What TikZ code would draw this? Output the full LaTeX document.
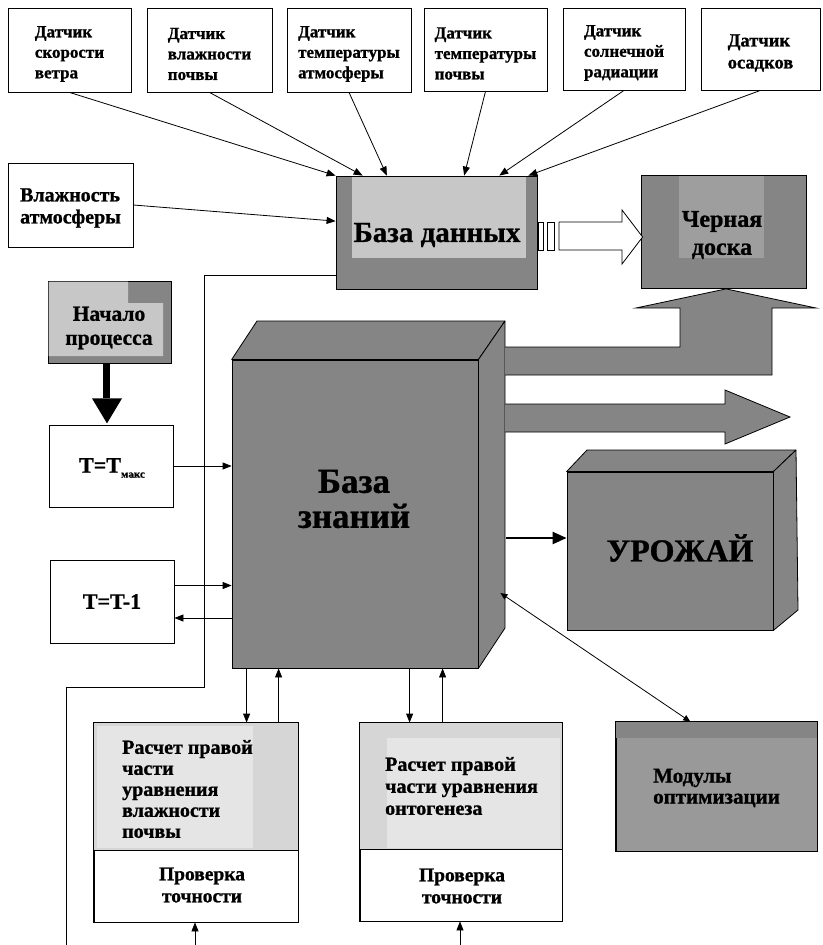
\documentclass[tikz,border=0pt]{standalone}
\usepackage{fontspec}
\setmainfont{Liberation Serif}[BoldFeatures={FakeBold=1}]
\usetikzlibrary{arrows.meta,calc}
\definecolor{chk}{gray}{0.52}
\definecolor{lite}{gray}{0.78}
\definecolor{midg}{gray}{0.62}
\definecolor{spr}{gray}{0.84}
\definecolor{sprl}{gray}{0.90}
\definecolor{modc}{gray}{0.60}
\begin{document}
\begin{tikzpicture}[x=1pt,y=-1pt,
  box/.style={draw,line width=0.8pt,inner sep=0pt,fill=white},
  sens/.style={inner sep=0pt,font=\fontsize{17}{20.5}\selectfont\bfseries,align=left},
  arr/.style={line width=0.8pt,-{Triangle[length=9pt,width=7pt]}},
  shadebox/.style={fill=chk,draw,line width=0.8pt,inner sep=0pt},
  face/.style={fill=chk,draw,line width=0.8pt,line join=round},
  txt/.style={inner sep=0pt,font=\bfseries}
]
\useasboundingbox (0,0) rectangle (822,945);

% sensors
\node[box,minimum width=123pt,minimum height=84pt] (s1) at (69.5,50) {};
\node[box,minimum width=125pt,minimum height=84pt] (s2) at (209.5,50) {};
\node[box,minimum width=124pt,minimum height=84pt] (s3) at (349,50) {};
\node[box,minimum width=123pt,minimum height=83pt] (s4) at (485.5,49.5) {};
\node[box,minimum width=122pt,minimum height=82pt] (s5) at (624,49) {};
\node[box,minimum width=119pt,minimum height=82pt] (s6) at (760.5,49) {};
\node[sens] (s1t) at ($(s1)+(0,4)$) {Датчик\\скорости\\ветра};
\node[sens] (s2t) at ($(s2)+(0,4)$) {Датчик\\влажности\\почвы};
\node[sens] (s3t) at ($(s3)+(0,4)$) {Датчик\\температуры\\атмосферы};
\node[sens] (s4t) at ($(s4)+(0,4)$) {Датчик\\температуры\\почвы};
\node[sens] (s5t) at ($(s5)+(0,4)$) {Датчик\\солнечной\\радиации};
\node[sens,font=\fontsize{18.5}{22}\selectfont\bfseries] (s6t) at ($(s6)+(0,4)$) {Датчик\\осадков};

\node[box,minimum width=125pt,minimum height=84pt] (va) at (70.5,205) {};
\node[txt,align=left,font=\fontsize{20}{22}\selectfont\bfseries] (vat) at ($(va)+(0,3)$) {Влажность\\атмосферы};

% database
\node[shadebox,minimum width=201pt,minimum height=113pt] (db) at (436.5,232.5) {};
\fill[lite] (352,176.5) rectangle (526,258);
\node[txt,font=\fontsize{29}{32}\selectfont\bfseries] (dbt) at (437,235) {База данных};

% blackboard
\node[shadebox,minimum width=165pt,minimum height=113pt] (bb) at (723.5,231.5) {};
\fill[midg] (679,175.5) rectangle (764,258);
\node[txt,align=center,font=\fontsize{24}{28}\selectfont\bfseries] (bbt) at (722,235) {Черная\\доска};

% hollow arrow db -> bb
\draw[line width=0.8pt,fill=white] (538,222) rectangle (543,250);
\draw[line width=0.8pt,fill=white] (547,222) rectangle (554,250);
\draw[line width=0.8pt,fill=white,line join=miter] (559,222) -- (622,222) -- (622,210) -- ($(bb.west)+(2,5.5)$) -- (622,264) -- (622,250) -- (559,250) -- cycle;

% start
\node[shadebox,minimum width=123pt,minimum height=82pt] (st) at (109.5,322) {};
\fill[lite] (48.5,281.5) -- (128,281.5) -- (128,303) -- (163,303) -- (163,356) -- (48.5,356) -- cycle;
\node[txt,align=center,font=\fontsize{21.5}{24}\selectfont\bfseries] (stt) at (109,328) {Начало\\процесса};

% T boxes
\node[box,minimum width=124pt,minimum height=82pt] (tmax) at (111,466) {};
\node[txt,font=\fontsize{22}{24}\selectfont\bfseries] (tmaxt) at (112,468) {T=T\raisebox{-5pt}{\fontsize{11}{11}\selectfont макс}};
\node[box,minimum width=124pt,minimum height=83pt,font=\fontsize{22}{24}\selectfont\bfseries] (tm1) at (112,601.5) {T=T-1};

% thick arrow start -> tmax
\draw[line width=7pt] ([xshift=-3pt]st.south) -- ++(0,35);
\fill ($(st.south)+(-17.5,35)$) -- ($(st.south)+(12.5,35)$) -- ($(st.south)+(-2.5,60)$) -- cycle;

% feedback line
\coordinate (f0) at ($(db.north west)!0.876!(db.south west)$);
\coordinate (f1) at (204,687);
\coordinate (f2) at (66,945);
\draw[line width=0.8pt] (f0) -| (f1) -| (f2);

% knowledge base
\node[shadebox,minimum width=246pt,minimum height=308pt] (kb) at (355,514) {};
\draw[face] (kb.north west) -- (257,321) -- (505,321) -- (kb.north east) -- cycle;
\draw[face] (kb.north east) -- (505,321) -- (505,628) -- (kb.south east) -- cycle;
\node[txt,align=center,font=\fontsize{35}{35}\selectfont\bfseries] (kbt) at (354,499) {База\\знаний};

% big arrows
\draw[face,line join=miter] (505,347) -- (680,347) -- (680,308) -- (636,308) -- ($(bb.south)+(2.5,0.5)$) -- (816,308) -- (772,308) -- (772,375) -- (505,375);
\draw[face,line join=miter] (505,404) -- (725,404) -- (725,390) -- (790,417) -- (725,444) -- (725,432) -- (505,432);

% harvest
\node[shadebox,minimum width=206pt,minimum height=158pt] (ur) at (670,551) {};
\draw[face] (ur.north west) -- (587,450) -- (796,450) -- (ur.north east) -- cycle;
\draw[face] (ur.north east) -- (796,450) -- (798,610) -- (ur.south east) -- cycle;
\node[txt,font=\fontsize{32}{32}\selectfont\bfseries] (urt) at (680,548) {УРОЖАЙ};

\coordinate (kbr) at ($(kb.east)+(28,24)$);
\draw[line width=2.2pt,-{Triangle[length=14pt,width=12pt]}] (kbr) -- (kbr -| ur.west);

% bottom box 1
\node[box,minimum width=204pt,minimum height=199pt] (r1) at (196,822.5) {};
\fill[spr] (94.4,723.4) rectangle (297.6,850);
\fill[sprl] (97,726) rectangle (253,848);
\draw[line width=0.8pt] (r1.north west) rectangle (r1.south east);
\draw[line width=0.8pt] (r1.west |- 0,850) -- (r1.east |- 0,850);
\node[txt,anchor=west,align=left,font=\fontsize{20}{21}\selectfont\bfseries] (r1t) at (122,789) {Расчет правой\\части\\уравнения\\влажности\\почвы};
\node[txt,align=center,font=\fontsize{19.5}{22}\selectfont\bfseries] (r1c) at (202,885) {Проверка\\точности};

% bottom box 2
\node[box,minimum width=202pt,minimum height=198pt] (r2) at (461,822) {};
\fill[spr] (360.4,723.4) rectangle (561.6,849);
\fill[sprl] (387,738) rectangle (560,848);
\draw[line width=0.8pt] (r2.north west) rectangle (r2.south east);
\draw[line width=0.8pt] (r2.west |- 0,849) -- (r2.east |- 0,849);
\node[txt,anchor=west,align=left,font=\fontsize{20}{22}\selectfont\bfseries] (r2t) at (385,786) {Расчет правой\\части уравнения\\онтогенеза};
\node[txt,align=center,font=\fontsize{19.5}{22}\selectfont\bfseries] (r2c) at (462,886) {Проверка\\точности};

% modules
\node[box,fill=modc,minimum width=201pt,minimum height=129pt] (mod) at (716.5,786.5) {};
\fill[chk] (616.4,722.4) rectangle (816.6,738);
\draw[line width=0.8pt] (mod.north west) rectangle (mod.south east);
\node[txt,anchor=west,align=left,font=\fontsize{21}{21}\selectfont\bfseries] (modt) at (653,788) {Модулы\\оптимизации};

% sensor arrows
\draw[arr] (s1.south) -- (db.north west);
\draw[arr] (s2.south) -- ($(db.north west)!0.134!(db.north east)$);
\draw[arr] (s3.south) -- ($(db.north west)!0.254!(db.north east)$);
\draw[arr] (s4.south) -- ($(db.north west)!0.637!(db.north east)$);
\draw[arr] (s5.south) -- ($(db.north west)!0.811!(db.north east)$);
\draw[arr] (s6.south) -- ($(db.north west)!0.955!(db.north east)$);
\draw[arr] (va.east) -- ($(db.north west)!0.4!(db.south west)$);

% T arrows
\draw[arr] (tmax.east) -- (tmax.east -| kb.west);
\coordinate (t1a) at ([yshift=16pt]tm1.east);
\draw[arr] (t1a) -- (t1a -| kb.west);
\coordinate (t1b) at ([yshift=-16.5pt]tm1.east);
\draw[arr] (t1b -| kb.west) -- (t1b);

% kb <-> bottom boxes
\coordinate (a1) at ([xshift=15pt]kb.south west);
\coordinate (a2) at ([xshift=47pt]kb.south west);
\coordinate (a3) at ([xshift=178pt]kb.south west);
\coordinate (a4) at ([xshift=211pt]kb.south west);
\draw[arr] (a1) -- (a1 |- r1.north);
\draw[arr] (a2 |- r1.north) -- (a2);
\draw[arr] (a3) -- (a3 |- r2.north);
\draw[arr] (a4 |- r2.north) -- (a4);

\coordinate (b1) at (195,945);
\coordinate (b2) at (460,945);
\draw[arr] (b1) -- (b1 |- r1.south);
\draw[arr] (b2) -- (b2 |- r2.south);

% kb <-> modules
\coordinate (mk) at ($(kb.east)+(22,79)$);
\draw[line width=0.8pt,{Triangle[length=7pt,width=6pt]}-{Triangle[length=7pt,width=6pt]}] (mk) -- ($(mod.north west)!0.37!(mod.north east)$);
\end{tikzpicture}
\end{document}
